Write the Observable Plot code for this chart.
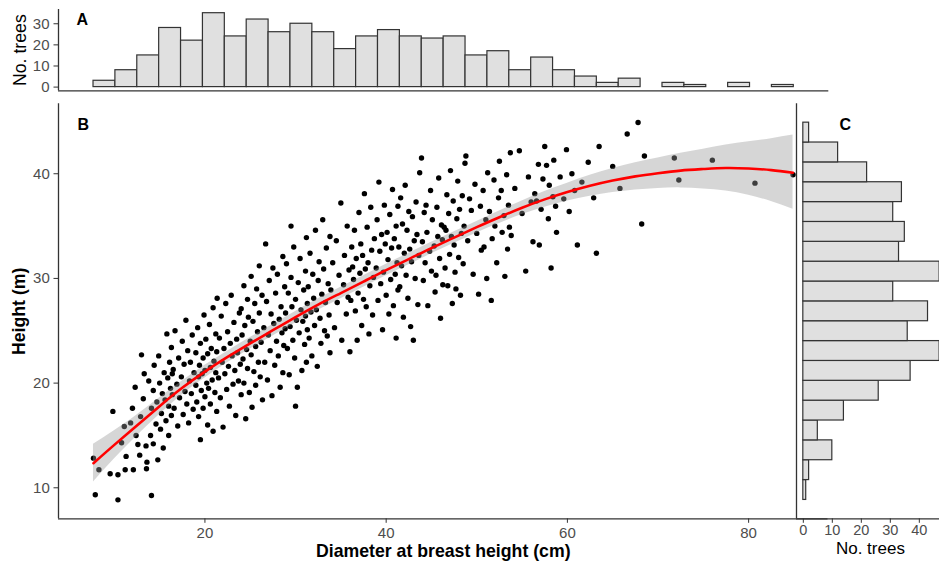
<!DOCTYPE html>
<html><head><meta charset="utf-8">
<script src="https://cdn.jsdelivr.net/npm/d3@7"></script>
<script src="https://cdn.jsdelivr.net/npm/@observablehq/plot@0.6"></script>
<style>
html,body{margin:0;padding:0;background:#fff;}
#chart{position:relative;width:939px;height:563px;overflow:hidden;background:#fff;}
#chart svg{position:absolute;left:0;top:0;}
</style></head><body><div id="chart"></div>
<script>
// ---- data ----
const dbhCounts = [3,8,15,28,22,35,24,32,26,30,26,18,24,27,24,23,24,15,17,8,14,8,5,2,4,0,2,1,0,2,0,1];
const dbhRange = [7.7, 84.9];
const heightCounts = [1,2,10,5,14,26,37,47,36,43,31,47,33,35,31,34,22,12,2]; // bottom to top
const heightRange = [8.84, 44.88];
const dbh = [
7.7,8.3,7.9,
9.54,9.84,10.4,10.4,11.2,11.1,10.8,11.3,
12.1,12.4,12.6,12.8,13.6,13.55,13.0,13.3,12.0,12.3,12.9,13.2,13.5,13.8,11.8,
14.0,14.3,14.8,14.1,14.1,14.3,14.4,14.6,14.7,14.9,15.0,15.1,15.2,15.3,15.4,15.5,15.6,15.7,15.8,15.9,16.0,16.0,16.1,16.2,16.3,16.3,16.4,16.4,
16.5,16.6,16.7,16.9,17.0,17.1,17.2,17.4,17.5,17.6,17.7,17.8,17.9,18.0,18.1,18.2,18.3,18.4,18.5,18.6,18.7,18.8,
19.0,19.0,19.1,19.2,19.3,19.3,19.4,19.5,19.5,19.6,19.7,19.8,19.8,19.9,20.0,20.0,20.1,20.2,20.3,20.3,20.4,20.5,20.6,20.6,20.7,20.8,20.9,20.9,21.0,21.1,21.2,21.2,21.3,21.3,21.35,
21.5,21.6,21.7,21.8,21.9,22.0,22.1,22.2,22.3,22.4,22.5,22.6,22.7,22.8,22.9,23.0,23.1,23.2,23.3,23.4,23.5,23.6,23.7,23.8,
23.9,24.0,24.0,24.1,24.2,24.3,24.3,24.4,24.5,24.6,24.7,24.7,24.8,24.9,25.0,25.1,25.1,25.2,25.3,25.4,25.5,25.6,25.6,25.7,25.8,25.9,26.0,26.0,26.1,26.2,26.3,26.35,
26.5,26.6,26.7,26.8,26.9,27.0,27.1,27.2,27.3,27.4,27.5,27.6,27.7,27.8,27.9,28.0,28.1,28.2,28.3,28.4,28.5,28.6,28.7,28.8,28.85,28.6,
28.9,29.0,29.1,29.2,29.3,29.4,29.5,29.6,29.7,29.8,29.9,30.0,30.1,30.2,30.3,30.4,30.5,30.6,30.7,30.8,30.9,31.0,31.1,31.1,31.2,31.2,31.3,31.3,30.0,29.5,
31.4,31.5,31.6,31.7,31.8,31.9,32.0,32.1,32.2,32.3,32.4,32.5,32.6,32.7,32.8,32.9,33.0,33.1,33.2,33.3,33.4,33.5,33.6,33.7,33.8,33.8,
33.9,34.1,34.3,34.5,34.6,34.8,35.0,35.1,35.3,35.4,35.6,35.7,35.8,35.9,36.0,36.1,36.2,36.3,
36.4,36.5,36.6,36.7,36.8,36.9,37.0,37.1,37.2,37.3,37.4,37.5,37.6,37.7,37.8,37.9,38.0,38.1,38.2,38.3,38.4,38.5,38.6,38.7,
38.9,39.0,39.1,39.2,39.3,39.4,39.5,39.6,39.7,39.8,39.9,40.0,40.1,40.2,40.3,40.4,40.5,40.6,40.7,40.8,40.9,41.0,41.1,41.1,41.2,41.3,41.3,
41.4,41.5,41.6,41.7,41.8,41.9,42.0,42.1,42.2,42.3,42.4,42.5,42.6,42.7,42.8,42.9,43.0,43.1,43.2,43.3,43.4,43.5,43.6,43.7,
43.9,44.0,44.1,44.2,44.3,44.4,44.5,44.6,44.8,44.9,45.0,45.1,45.3,45.4,45.5,45.6,45.7,45.8,45.9,46.0,46.1,46.2,46.25,
46.4,46.5,46.6,46.7,46.8,46.9,47.0,47.1,47.2,47.3,47.4,47.5,47.6,47.7,47.8,47.9,48.0,48.1,48.2,48.3,48.4,48.5,48.6,48.7,
48.8,49.0,49.2,49.4,49.6,49.8,50.0,50.2,50.4,50.5,50.7,50.8,51.0,51.1,51.2,
51.4,51.6,51.7,51.9,52.0,52.2,52.4,52.5,52.7,52.8,53.0,53.1,53.3,53.4,53.5,53.6,53.7,
53.8,54.2,54.7,55.0,55.4,55.7,56.0,56.2,
56.4,56.6,56.8,56.9,57.1,57.3,57.5,57.7,57.9,58.0,58.2,58.4,58.5,58.7,
58.8,59.2,59.6,59.9,60.2,60.5,60.8,61.1,
61.6,62.3,62.9,63.2,63.5,
65.0,65.8,
66.6,67.8,68.2,68.5,
71.8,72.3,
76.0,
80.7,
84.9
];
const height = [
12.83,11.72,9.33,
11.34,17.3,11.24,8.85,11.72,15.86,14.3,13.0,
11.72,15.0,14.14,13.12,12.45,11.82,22.7,20.9,17.6,19.6,16.8,18.5,14.0,20.2,16.2,
15.0,14.2,12.67,9.26,17.6,19.3,21.7,16.1,18.2,22.6,20.0,15.6,17.1,19.0,13.8,21.0,18.4,16.4,24.7,20.5,17.8,15.0,22.0,19.5,16.9,23.4,18.9,20.9,
21.3,17.6,25.0,19.9,15.9,22.4,18.6,20.6,24.0,17.0,21.8,19.2,26.0,18.0,23.1,16.2,20.2,22.0,19.0,24.6,17.5,21.0,
19.8,22.9,18.2,25.3,20.6,16.8,21.7,14.6,23.8,19.3,20.9,17.6,22.4,26.5,21.2,18.7,24.2,20.0,16.0,22.8,19.5,25.6,21.5,18.0,23.3,20.3,27.2,15.4,22.1,19.1,24.7,21.0,17.3,23.0,28.1,
20.5,24.3,18.6,26.4,22.0,15.8,23.3,20.9,27.6,19.4,24.9,21.6,17.8,23.8,28.4,22.6,19.9,25.8,21.2,16.9,24.2,22.9,20.2,26.7,
21.8,27.1,18.9,24.6,22.3,29.3,20.0,25.5,16.6,23.2,28.0,21.4,26.3,19.1,24.0,30.2,22.7,17.7,25.9,21.1,27.6,23.5,19.8,29.0,24.9,22.0,31.2,26.7,20.6,23.9,28.4,18.4,
25.3,22.0,33.3,27.8,20.3,24.6,29.8,23.1,26.6,18.8,31.0,25.7,21.7,28.6,24.0,30.4,22.6,26.1,19.6,27.3,24.8,32.1,23.6,29.2,25.2,21.0,
26.7,31.4,23.3,28.6,20.8,25.4,30.1,27.3,24.1,33.0,22.4,28.0,26.0,19.6,29.6,24.8,31.9,27.0,21.2,25.9,28.9,23.7,30.7,26.4,33.9,22.0,27.6,25.1,17.8,35.0,
29.2,24.3,32.4,26.8,22.6,30.4,28.1,25.5,34.6,27.0,21.6,29.8,31.6,26.2,23.8,28.5,35.6,30.9,25.0,27.7,32.9,24.5,29.5,26.5,34.0,22.9,
28.9,31.5,25.3,33.6,27.7,30.3,37.2,24.1,29.4,32.2,26.6,35.0,28.2,30.8,23.0,27.9,33.0,31.1,
29.9,34.6,26.9,31.9,24.1,28.6,36.3,30.5,33.3,25.5,32.2,28.0,38.1,30.9,27.3,34.9,31.5,24.7,29.3,36.8,32.7,26.5,30.1,33.8,
31.0,35.6,27.9,39.2,32.6,29.5,34.2,25.1,30.6,37.0,33.3,28.4,34.4,31.8,26.6,36.1,29.9,32.9,38.5,27.4,33.8,30.4,35.0,24.3,31.5,36.9,28.9,
33.0,29.2,37.7,31.2,35.2,26.3,32.4,38.9,30.3,34.6,28.1,36.4,32.8,25.4,31.6,35.9,24.1,33.6,30.0,37.3,34.2,27.5,32.2,40.1,
41.5,33.5,29.8,36.3,31.5,37.0,34.4,27.4,32.6,38.4,30.7,35.6,33.1,28.7,30.3,36.8,34.0,39.6,31.9,26.2,35.1,33.7,29.4,
34.9,31.0,34.6,38.0,29.3,36.2,32.3,40.3,34.0,27.6,37.4,33.2,30.6,29.0,35.7,39.3,32.0,36.6,28.4,34.3,37.9,31.4,35.0,41.0,
41.7,33.6,37.6,36.5,30.4,39.0,34.3,28.5,36.9,32.7,38.4,33.0,35.6,30.0,40.1,
36.4,27.9,33.8,39.4,35.0,31.5,37.7,41.2,38.4,34.4,36.0,30.2,39.9,32.8,37.0,34.9,42.0,
34.1,38.6,42.2,36.2,30.7,39.7,37.3,33.5,
38.1,37.4,40.9,33.2,36.6,39.5,42.6,40.8,35.7,38.9,31.0,37.8,41.3,36.9,
34.4,39.7,37.6,42.3,36.4,40.0,38.4,33.2,
39.2,41.1,37.7,32.4,42.6,
40.7,38.6,
43.8,44.9,35.2,41.7,
41.5,39.4,
41.3,
39.1,
39.9
];
const fitDbh = [7.7,10,12.5,15,17.5,20,22.5,25,27.5,30,32.5,35,37.5,40,42.5,45,47.5,50,52.5,55,57.5,60,62.5,65,67.5,70,72.5,75,77.5,80,82.5,84.9];
const fitHeight = [12.35,14.1,15.95,17.8,19.55,21.1,22.5,23.8,25.05,26.3,27.5,28.6,29.7,30.8,31.85,32.9,33.9,34.9,35.85,36.75,37.55,38.25,38.85,39.35,39.75,40.05,40.3,40.45,40.55,40.5,40.35,40.1];
const fitLower = [10.55,12.75,14.95,17.0,18.9,20.5,21.95,23.25,24.5,25.75,26.95,28.05,29.15,30.25,31.3,32.35,33.35,34.35,35.25,36.1,36.8,37.4,37.85,38.2,38.45,38.6,38.65,38.55,38.35,37.95,37.35,36.6];
const fitUpper = [14.15,15.45,16.95,18.6,20.2,21.7,23.05,24.35,25.6,26.85,28.05,29.15,30.25,31.35,32.4,33.45,34.45,35.45,36.45,37.4,38.3,39.1,39.85,40.5,41.05,41.5,41.95,42.35,42.75,43.05,43.35,43.7];
const xTicks = [20,40,60,80];
const yTicks = [10,20,30,40];
const countTicksA = [0,10,20,30];
const countTicksC = [0,10,20,30,40];
const xTitle = "Diameter at breast height (cm)";
const yTitle = "Height (m)";
const countTitle = "No. trees";

// ---- derived tables ----
const W = 939, H = 563;
const FONT = "'Liberation Sans', Arial, Helvetica, sans-serif";
const trees = dbh.map((d, i) => ({dbh: d, height: height[i]}));
const fit = fitDbh.map((d, i) => ({dbh: d, y: fitHeight[i], lo: fitLower[i], hi: fitUpper[i]}));
const bw = (dbhRange[1] - dbhRange[0]) / (dbhCounts.length - 1);
const dbhBins = dbhCounts.map((c, i) => ({x1: dbhRange[0] - bw/2 + i*bw, x2: dbhRange[0] + bw/2 + i*bw, n: c})).filter(d => d.n > 0);
const hw = (heightRange[1] - heightRange[0]) / (heightCounts.length - 1);
const hBins = heightCounts.map((c, i) => ({y1: heightRange[0] - hw/2 + i*hw, y2: heightRange[0] + hw/2 + i*hw, n: c})).filter(d => d.n > 0);
const ex = (a, b, f = 0.05) => [a - (b - a)*f, b + (b - a)*f];
const xDom = ex(dbhRange[0], dbhRange[1]);
const yDom = ex(heightRange[0], heightRange[1]);
const aXDom = ex(dbhRange[0] - bw/2, dbhRange[1] + bw/2);
const cYDom = ex(heightRange[0] - hw/2, heightRange[1] + hw/2);
const aYDom = ex(0, d3.max(dbhCounts));
const cXDom = [-0.05*47, 46.96];

const axisStyle = {stroke: "#333", fill: "#4d4d4d", fontSize: 15, tickSize: 4.5, label: null};
const lineStyle = {stroke: "#333", strokeWidth: 1.3};
const baseStyle = {background: "transparent", fontFamily: FONT, overflow: "visible"};

const mainPlot = Plot.plot({
  width: W, height: H,
  marginLeft: 58, marginRight: W - 827.5, marginTop: 103.3, marginBottom: H - 518.3,
  style: baseStyle,
  x: {domain: xDom}, y: {domain: yDom},
  marks: [
    Plot.dot(trees, {x: "dbh", y: "height", r: 2.7, fill: "black"}),
    Plot.areaY(fit, {x: "dbh", y1: "lo", y2: "hi", fill: "#999999", fillOpacity: 0.4, curve: "natural"}),
    Plot.line(fit, {x: "dbh", y: "y", stroke: "red", strokeWidth: 2.6, curve: "natural"}),
    Plot.axisX({...axisStyle, ticks: xTicks, tickPadding: 4.5}),
    Plot.axisY({...axisStyle, ticks: yTicks, tickPadding: 4.2}),
    Plot.ruleX([xDom[0]], lineStyle),
    Plot.ruleY([yDom[0]], lineStyle),
    Plot.text([xTitle], {frameAnchor: "bottom", dy: 38.5, lineAnchor: "bottom", fontWeight: "bold", fontSize: 17.7, fill: "black"}),
    Plot.text([yTitle], {frameAnchor: "left", dx: -33.5, rotate: -90, textAnchor: "middle", lineAnchor: "bottom", fontWeight: "bold", fontSize: 17.7, fill: "black"}),
    Plot.text(["B"], {frameAnchor: "top-left", dx: 19, dy: 26.2, textAnchor: "start", lineAnchor: "bottom", fontWeight: "bold", fontSize: 16, fill: "black"})
  ]
});

const topPlot = Plot.plot({
  width: W, height: H,
  marginLeft: 58, marginRight: W - 828.3, marginTop: 9.0, marginBottom: H - 90.3,
  style: baseStyle,
  x: {domain: aXDom, axis: null}, y: {domain: aYDom},
  marks: [
    Plot.rectY(dbhBins, {x1: "x1", x2: "x2", y: "n", fill: "#e0e0e0", stroke: "#333", strokeWidth: 1.2}),
    Plot.axisY({...axisStyle, ticks: countTicksA, tickPadding: 4.5}),
    Plot.ruleX([aXDom[0]], lineStyle),
    Plot.ruleY([aYDom[0]], lineStyle),
    Plot.text([countTitle], {frameAnchor: "left", dx: -33, rotate: -90, textAnchor: "middle", lineAnchor: "bottom", fontSize: 17.7, fill: "black"}),
    Plot.text(["A"], {frameAnchor: "top-left", dx: 18, dy: 15, textAnchor: "start", lineAnchor: "bottom", fontWeight: "bold", fontSize: 16, fill: "black"})
  ]
});

const rightPlot = Plot.plot({
  width: W, height: H,
  marginLeft: 796, marginRight: 0, marginTop: 103.3, marginBottom: H - 518.3,
  style: baseStyle,
  x: {domain: cXDom}, y: {domain: cYDom, axis: null},
  marks: [
    Plot.rectX(hBins, {y1: "y1", y2: "y2", x: "n", fill: "#e0e0e0", stroke: "#333", strokeWidth: 1.2}),
    Plot.axisX({...axisStyle, fontSize: 14.5, ticks: countTicksC, tickPadding: 1}),
    Plot.ruleX([cXDom[0]], lineStyle),
    Plot.ruleY([cYDom[0]], lineStyle),
    Plot.text([countTitle], {frameAnchor: "bottom", dx: 2.4, dy: 35.2, lineAnchor: "bottom", fontSize: 17, fill: "black"}),
    Plot.text(["C"], {frameAnchor: "top-left", dx: 43, dy: 26.2, textAnchor: "start", lineAnchor: "bottom", fontWeight: "bold", fontSize: 16, fill: "black"})
  ]
});

const chart = document.getElementById("chart");
chart.append(mainPlot, topPlot, rightPlot);
</script></body></html>
